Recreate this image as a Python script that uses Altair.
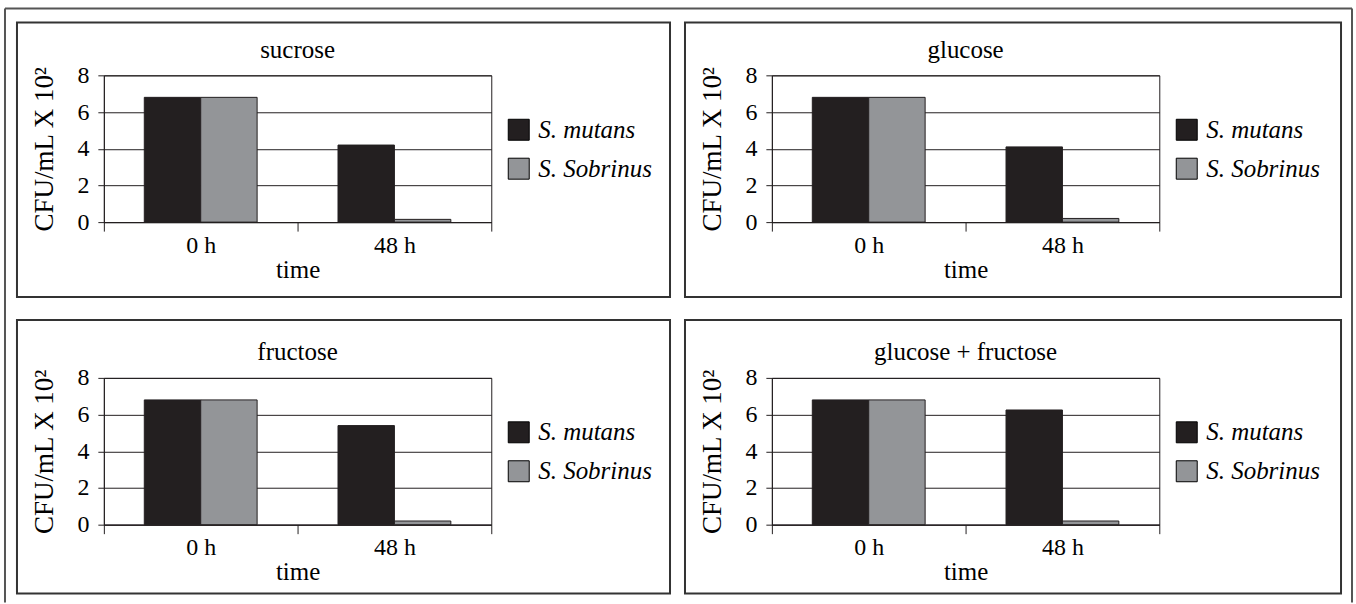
import altair as alt
import pandas as pd

# ---- data ----
panel_names = ["sucrose", "glucose", "fructose", "glucose + fructose"]
times = ["0 h", "48 h"]
species = ["S. mutans", "S. Sobrinus"]

sucrose_mutans = [6.8, 4.2]
sucrose_sobrinus = [6.8, 0.15]
glucose_mutans = [6.8, 4.1]
glucose_sobrinus = [6.8, 0.2]
fructose_mutans = [6.8, 5.4]
fructose_sobrinus = [6.8, 0.2]
glufru_mutans = [6.8, 6.25]
glufru_sobrinus = [6.8, 0.2]

y_ticks = [0, 2, 4, 6, 8]

FONT = "Liberation Serif"
INK = "#231f20"
GREY = "#939598"
W, H = 388, 147


def panel(name, mut, sob, frame_top, frame_bottom, frame_right, title_y, outer=False):
    df = pd.DataFrame({
        "time": times + times,
        "species": [species[0]] * 2 + [species[1]] * 2,
        "value": mut + sob,
    })
    bars = alt.Chart(df).mark_bar(stroke=INK, strokeWidth=1).encode(
        x=alt.X("time:N", sort=times,
                scale=alt.Scale(paddingInner=0, paddingOuter=0),
                axis=alt.Axis(title="time", labelAngle=0, tickBand="extent",
                              tickSize=9, labelPadding=2, titlePadding=0)),
        xOffset=alt.XOffset("species:N", sort=species,
                            scale=alt.Scale(paddingInner=0, paddingOuter=0.717)),
        y=alt.Y("value:Q", scale=alt.Scale(domain=[0, 8], nice=False),
                axis=alt.Axis(values=y_ticks, title="CFU/mL X 10²", grid=True,
                              tickSize=6, labelPadding=9, titlePadding=18,
                              titleFontSize=27)),
        color=alt.Color("species:N", sort=species,
                        scale=alt.Scale(domain=species, range=[INK, GREY]),
                        legend=alt.Legend(title=None, orient="none", legendX=403,
                                          legendY=42, padding=0, symbolType="square",
                                          symbolSize=441, symbolStrokeColor="black",
                                          symbolStrokeWidth=1, symbolOpacity=1,
                                          labelFont=FONT, labelFontSize=25,
                                          labelFontStyle="italic", labelColor="black",
                                          labelOffset=7, rowPadding=13)),
    )
    one = alt.Data(values=[{}])
    frame = alt.Chart(one).mark_rect(
        fillOpacity=0, stroke="#333333", strokeWidth=2
    ).encode(x=alt.value(-87), x2=alt.value(frame_right),
             y=alt.value(frame_top), y2=alt.value(frame_bottom))
    title = alt.Chart(one).mark_text(
        font=FONT, fontSize=25, color="black", align="center", baseline="middle"
    ).encode(x=alt.value(W / 2), y=alt.value(title_y), text=alt.value(name))
    layers = [frame]
    if outer:
        edge = alt.Chart(one).mark_rule(color="#555555", strokeWidth=2)
        layers += [
            edge.encode(x=alt.value(-99), y=alt.value(-67), y2=alt.value(528)),
            edge.encode(x=alt.value(1250), y=alt.value(-67), y2=alt.value(528)),
            edge.encode(x=alt.value(-99), x2=alt.value(1250), y=alt.value(-67)),
        ]
    layers += [bars, title]
    return alt.layer(*layers).properties(width=W, height=H)


p1 = panel(panel_names[0], sucrose_mutans, sucrose_sobrinus, -53, 222, 567, -25, outer=True)
p2 = panel(panel_names[1], glucose_mutans, glucose_sobrinus, -53, 222, 570, -25)
p3 = panel(panel_names[2], fructose_mutans, fructose_sobrinus, -58, 216, 567, -26)
p4 = panel(panel_names[3], glufru_mutans, glufru_sobrinus, -58, 216, 570, -26)

chart = alt.concat(
    p1, p2, p3, p4, columns=2, spacing={"row": 156, "column": 281}, bounds="flush"
).resolve_legend(color="independent").resolve_scale(color="independent").properties(
    padding={"left": 3, "top": 6, "right": 2, "bottom": 0},
    background="white",
).configure_view(stroke=INK, strokeWidth=1).configure_axis(
    domainColor=INK, tickColor=INK, gridColor=INK, gridOpacity=1, gridWidth=1,
    labelFont=FONT, labelFontSize=24, labelColor="black",
    titleFont=FONT, titleFontSize=25, titleFontWeight="normal", titleColor="black",
)

chart.save("out.html", embed_options={"renderer": "svg", "actions": False})
